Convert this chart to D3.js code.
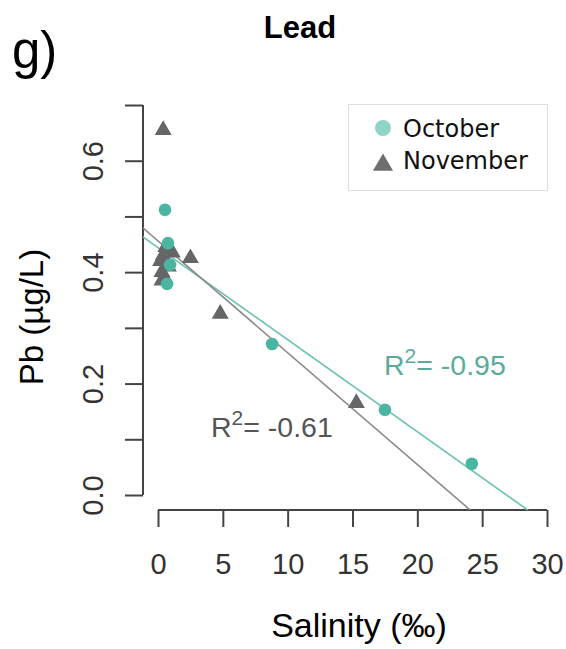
<!DOCTYPE html>
<html><head><meta charset="utf-8">
<script src="https://cdn.jsdelivr.net/npm/d3@7"></script>
<style>body{margin:0;background:#fff}</style>
</head><body>
<svg id="c" width="566" height="649"></svg>
<script>
// ---- data ----
const octSalinity = [0.54, 0.77, 0.93, 0.70, 8.8, 17.5, 24.2];
const octPb       = [0.512, 0.452, 0.413, 0.379, 0.271, 0.153, 0.056];
const novSalinity = [0.4, 0.2, 0.4, 0.3, 0.5, 0.3, 1.1, 0.8, 0.6, 2.5, 4.8, 15.3];
const novPb       = [0.655, 0.42, 0.43, 0.40, 0.39, 0.385, 0.435, 0.41, 0.445, 0.425, 0.325, 0.165];
const octFit = [0.444, -0.01652];  // intercept, slope
const novFit = [0.456, -0.02006];
const xTicks = [0, 5, 10, 15, 20, 25, 30];
const yTicks = [0.0, 0.1, 0.2, 0.3, 0.4, 0.5, 0.6, 0.7];
const yTickLabels = ["0.0", "", "0.2", "", "0.4", "", "0.6", ""];
const legendLabels = ["October", "November"];
const r2Labels = ["-0.95", "-0.61"];

const svg = d3.select("#c");
const x = d3.scaleLinear().domain([0, 30]).range([158, 547]);
const y = d3.scaleLinear().domain([0, 0.7]).range([495, 105]);
const axisCol = "#444";
const teal = "#4bb5a2", tealLine = "#6cc2b2", tealText = "#5aab9c";
const grey = "#666", greyLine = "#8a8a8a", greyText = "#555";
const sans = "'Liberation Sans', Arial, sans-serif";

// title and panel letter
svg.append("text").attr("x", 300).attr("y", 38).attr("text-anchor", "middle")
  .attr("font-family", sans).attr("font-weight", "bold").attr("font-size", 31).text("Lead");
svg.append("text").attr("x", 12).attr("y", 68)
  .attr("font-family", sans).attr("font-size", 51).text("g)");

// axes
const xAxis = d3.axisBottom(x).tickValues(xTicks).tickSize(17).tickPadding(9).tickSizeOuter(0);
const gx = svg.append("g").attr("transform", "translate(0,510)").call(xAxis);
gx.select(".domain").attr("d", `M${x(0)},0H${x(30)}`).attr("stroke", axisCol).attr("stroke-width", 2);
gx.selectAll(".tick line").attr("stroke", axisCol).attr("stroke-width", 2);
gx.selectAll(".tick text").attr("font-family", sans).attr("font-size", 29).attr("fill", "#333")
  .attr("dy", null).attr("y", 64);

const yAxis = d3.axisLeft(y).tickValues(yTicks).tickSize(18).tickSizeOuter(0)
  .tickFormat((d, i) => yTickLabels[i]);
const gy = svg.append("g").attr("transform", "translate(143,0)").call(yAxis);
gy.select(".domain").attr("d", `M0,${y(0.7)}V${y(0)}`).attr("stroke", axisCol).attr("stroke-width", 2);
gy.selectAll(".tick line").attr("stroke", axisCol).attr("stroke-width", 2);
gy.selectAll(".tick text").attr("font-family", sans).attr("font-size", 29).attr("fill", "#333")
  .attr("x", null).attr("dy", null).attr("text-anchor", "middle")
  .attr("transform", "translate(-40,0) rotate(-90)").attr("y", 0);

// axis labels
svg.append("text").attr("transform", "translate(43,317) rotate(-90)").attr("text-anchor", "middle")
  .attr("font-family", sans).attr("font-size", 33).text("Pb (µg/L)");
svg.append("text").attr("x", 359).attr("y", 637).attr("text-anchor", "middle")
  .attr("font-family", sans).attr("font-size", 34).text("Salinity (‰)");

// regression lines, clipped to plot region
svg.append("clipPath").attr("id", "pr").append("rect")
  .attr("x", 143).attr("y", 0).attr("width", 423).attr("height", 510);
const lineG = svg.append("g").attr("clip-path", "url(#pr)");
[[octFit, tealLine], [novFit, greyLine]].forEach(([f, col]) => {
  lineG.append("line")
    .attr("x1", x(-3)).attr("y1", y(f[0] + f[1] * -3))
    .attr("x2", x(35)).attr("y2", y(f[0] + f[1] * 35))
    .attr("stroke", col).attr("stroke-width", 1.6);
});

// points
const oct = octSalinity.map((s, i) => ({s, v: octPb[i]}));
const nov = novSalinity.map((s, i) => ({s, v: novPb[i]}));
const tri = d3.symbol().type(d3.symbolTriangle).size(125);
svg.append("g").selectAll("path").data(nov).join("path")
  .attr("d", tri).attr("transform", d => `translate(${x(d.s)},${y(d.v)})`).attr("fill", grey);
svg.append("g").selectAll("circle").data(oct).join("circle")
  .attr("cx", d => x(d.s)).attr("cy", d => y(d.v)).attr("r", 6.3).attr("fill", teal);

// R2 labels
function r2(xp, yp, val, col) {
  const t = svg.append("text").attr("x", xp).attr("y", yp).attr("font-family", sans)
    .attr("font-size", 28.5).attr("fill", col);
  t.append("tspan").text("R");
  t.append("tspan").attr("font-size", 21).attr("dy", -12).text("2");
  t.append("tspan").attr("dy", 12).text("= " + val);
}
r2(384, 375, r2Labels[0], tealText);
r2(211, 437, r2Labels[1], greyText);

// legend
svg.append("rect").attr("x", 348.5).attr("y", 104.5).attr("width", 199).attr("height", 86)
  .attr("fill", "#fff").attr("stroke", "#ddd").attr("stroke-width", 1);
svg.append("circle").attr("cx", 383).attr("cy", 128).attr("r", 8).attr("fill", "#8fd4c7");
svg.append("path").attr("d", d3.symbol().type(d3.symbolTriangle).size(175)())
  .attr("transform", "translate(383,165)").attr("fill", "#6e6e6e");
legendLabels.forEach((l, i) => {
  svg.append("text").attr("x", 403).attr("y", 137 + i * 32)
    .attr("font-family", "'DejaVu Sans', sans-serif").attr("font-size", 24).attr("fill", "#111").text(l);
});
</script>
</body></html>
